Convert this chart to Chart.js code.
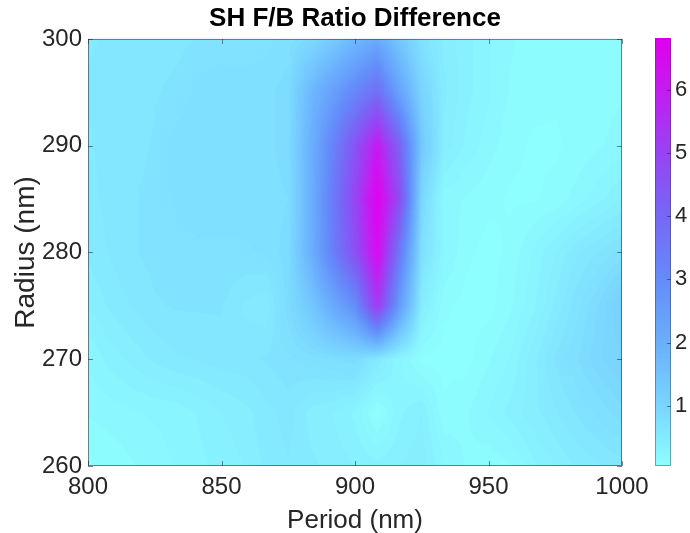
<!DOCTYPE html>
<html><head><meta charset="utf-8">
<script src="https://cdn.jsdelivr.net/npm/chart.js@4/dist/chart.umd.min.js"></script>
<style>html,body{margin:0;padding:0;background:#fff;overflow:hidden}</style>
</head><body>
<canvas id="c" width="690" height="533" style="display:block;width:690px;height:533px"></canvas>
<script>
// ---- data ----
const periods = [800, 808.33, 816.67, 825, 833.33, 841.67, 850, 858.33, 866.67, 875, 883.33, 891.67, 900,
                 908.33, 916.67, 925, 933.33, 941.67, 950, 958.33, 966.67, 975, 983.33, 991.67, 1000];
const radii = [260, 265, 270, 275, 280, 285, 290, 295, 300];
const z300 = [0.60,0.62,0.64,0.65,0.66,0.70,0.72,0.72,0.74,0.80,0.95,1.30,1.80,2.20,1.40,0.75,0.50,0.40,0.30,0.22,0.18,0.16,0.16,0.18,0.20];
const z295 = [0.62,0.64,0.66,0.68,0.72,0.80,0.82,0.82,0.82,0.90,1.80,2.50,3.20,3.90,2.40,1.10,0.55,0.40,0.30,0.20,0.15,0.14,0.15,0.18,0.20];
const z290 = [0.60,0.64,0.66,0.70,0.80,0.82,0.82,0.82,0.82,0.90,2.00,3.30,4.60,6.10,4.20,1.40,0.50,0.35,0.25,0.15,0.12,0.12,0.15,0.20,0.25];
const z285 = [0.58,0.64,0.68,0.72,0.78,0.80,0.80,0.80,0.80,0.85,2.00,3.50,5.00,6.80,4.80,1.00,0.25,0.20,0.15,0.12,0.12,0.15,0.25,0.35,0.45];
const z280 = [0.55,0.62,0.68,0.72,0.75,0.76,0.76,0.76,0.78,0.90,2.00,3.40,4.70,6.50,3.60,0.80,0.30,0.15,0.10,0.15,0.30,0.45,0.60,0.70,0.80];
const z275 = [0.45,0.55,0.62,0.68,0.70,0.70,0.70,0.60,0.55,0.90,1.40,2.20,3.00,5.30,2.60,0.50,0.15,0.10,0.10,0.20,0.35,0.55,0.75,0.95,1.20];
const z270 = [0.30,0.40,0.48,0.55,0.60,0.62,0.65,0.66,0.70,0.75,0.80,0.85,0.90,0.60,0.30,0.10,0.10,0.10,0.20,0.30,0.50,0.70,0.85,1.00,1.10];
const z265 = [0.22,0.25,0.28,0.30,0.32,0.38,0.45,0.50,0.58,0.65,0.50,0.45,0.35,0.10,0.35,0.45,0.15,0.20,0.30,0.40,0.50,0.60,0.70,0.80,0.90];
const z260 = [0.10,0.15,0.20,0.25,0.30,0.35,0.40,0.45,0.55,0.60,0.55,0.50,0.45,0.40,0.45,0.50,0.30,0.20,0.15,0.20,0.35,0.45,0.55,0.60,0.65];
const zRows = [z260, z265, z270, z275, z280, z285, z290, z295, z300];
const xTicks = [800, 850, 900, 950, 1000];
const yTicks = [260, 270, 280, 290, 300];
const cTicks = [1, 2, 3, 4, 5, 6];
const cMin = 0.05, cMax = 6.8;
// colormap stops: value -> rgb
const cmapStops = [
  [0.05, 142, 255, 255], [1, 122, 214, 255], [2, 106, 176, 253], [3, 100, 140, 250],
  [4, 118, 104, 246], [5, 152, 68, 244], [6, 196, 28, 241], [6.8, 226, 0, 240]
];

// ---- helpers ----
function cmap(v) {
  if (v <= cmapStops[0][0]) return cmapStops[0].slice(1);
  for (let i = 1; i < cmapStops.length; i++) {
    const a = cmapStops[i - 1], b = cmapStops[i];
    if (v <= b[0]) {
      const t = (v - a[0]) / (b[0] - a[0]);
      return [a[1] + t * (b[1] - a[1]), a[2] + t * (b[2] - a[2]), a[3] + t * (b[3] - a[3])];
    }
  }
  return cmapStops[cmapStops.length - 1].slice(1);
}
function locate(arr, v) {
  let i = 0;
  while (i < arr.length - 2 && v > arr[i + 1]) i++;
  const t = (v - arr[i]) / (arr[i + 1] - arr[i]);
  return [i, Math.max(0, Math.min(1, t))];
}
function zAt(p, r) {
  const [i, tx] = locate(periods, p);
  const [j, ty] = locate(radii, r);
  const a = zRows[j][i], b = zRows[j][i + 1], c = zRows[j + 1][i], d = zRows[j + 1][i + 1];
  return (a * (1 - tx) + b * tx) * (1 - ty) + (c * (1 - tx) + d * tx) * ty;
}
const levelStep = 0.08;

const points = [];
radii.forEach((r, j) => periods.forEach((p, i) => points.push({x: p, y: r, v: zRows[j][i]})));

const FONT = "'Liberation Sans', Arial, Helvetica, sans-serif";
const axisCol = 'rgba(38,38,38,0.55)';
const noPad = s => { s.paddingTop = 0; s.paddingBottom = 0; s.paddingLeft = 0; s.paddingRight = 0; };

const contourPlugin = {
  id: 'contourFill',
  beforeDatasetsDraw(chart) {
    const {ctx, chartArea: a, scales: {x, y}} = chart;
    const x0 = Math.round(a.left), y0 = Math.round(a.top);
    const w = Math.round(a.right) - x0, h = Math.round(a.bottom) - y0;
    const img = ctx.createImageData(w, h);
    for (let jj = 0; jj < h; jj++) {
      const r = y.getValueForPixel(y0 + jj + 0.5);
      for (let ii = 0; ii < w; ii++) {
        const p = x.getValueForPixel(x0 + ii + 0.5);
        let v = zAt(p, r);
        v = cMin + Math.floor((v - cMin) / levelStep) * levelStep;
        const c = cmap(v);
        const k = (jj * w + ii) * 4;
        img.data[k] = c[0]; img.data[k + 1] = c[1]; img.data[k + 2] = c[2]; img.data[k + 3] = 255;
      }
    }
    ctx.putImageData(img, x0, y0);
  },
  afterDatasetsDraw(chart) {
    const {ctx, chartArea: a, scales: {x, y, cb}} = chart;
    ctx.save();
    ctx.strokeStyle = axisCol;
    ctx.lineWidth = 1;
    ctx.strokeRect(a.left + 0.5, a.top + 0.5, a.right - a.left - 1, a.bottom - a.top - 1);
    ctx.beginPath();
    xTicks.forEach(t => {
      const px = Math.round(x.getPixelForValue(t)) + 0.5;
      ctx.moveTo(px, a.bottom); ctx.lineTo(px, a.bottom - 5);
      ctx.moveTo(px, a.top); ctx.lineTo(px, a.top + 5);
    });
    yTicks.forEach(t => {
      const py = Math.round(y.getPixelForValue(t)) + 0.5;
      ctx.moveTo(a.left, py); ctx.lineTo(a.left + 5, py);
      ctx.moveTo(a.right, py); ctx.lineTo(a.right - 5, py);
    });
    ctx.stroke();
    // colorbar
    const bx0 = 655, bx1 = 671;
    const top = cb.getPixelForValue(cMax), bot = cb.getPixelForValue(cMin);
    for (let py = Math.floor(top); py < Math.ceil(bot); py++) {
      const v = cb.getValueForPixel(py + 0.5);
      const c = cmap(v);
      ctx.fillStyle = `rgb(${c[0] | 0},${c[1] | 0},${c[2] | 0})`;
      ctx.fillRect(bx0, py, bx1 - bx0, 1);
    }
    ctx.strokeStyle = 'rgba(60,60,60,0.45)';
    ctx.strokeRect(bx0 + 0.5, top + 0.5, bx1 - bx0 - 1, bot - top - 1);
    ctx.strokeStyle = axisCol;
    ctx.beginPath();
    cTicks.forEach(t => {
      const py = Math.round(cb.getPixelForValue(t)) + 0.5;
      ctx.moveTo(bx1, py); ctx.lineTo(bx1 - 4, py);
    });
    ctx.stroke();
    ctx.restore();
  }
};

new Chart(document.getElementById('c'), {
  type: 'scatter',
  data: {datasets: [{label: 'SH F/B Ratio Difference', data: points, pointRadius: 0, pointHoverRadius: 0}]},
  options: {
    responsive: false,
    animation: false,
    devicePixelRatio: 1,
    layout: {padding: {left: 20, right: 0, top: 0, bottom: 0}},
    plugins: {
      legend: {display: false},
      tooltip: {enabled: false},
      title: {display: true, text: 'SH F/B Ratio Difference', color: '#000',
              font: {family: FONT, size: 26, weight: 'bold', lineHeight: 1.15}, padding: {top: 4, bottom: 5}}
    },
    scales: {
      x: {
        type: 'linear', position: 'bottom', min: 800, max: 1000,
        afterBuildTicks: s => { s.ticks = xTicks.map(v => ({value: v})); },
        afterFit: s => { s.height = 67; noPad(s); },
        ticks: {color: '#262626', font: {family: FONT, size: 24}, padding: 7, maxRotation: 0, autoSkip: false,
                callback: v => String(v)},
        grid: {display: false, drawTicks: false}, border: {display: false},
        title: {display: true, text: 'Period (nm)', color: '#262626', font: {family: FONT, size: 26, lineHeight: 1.2}, padding: {top: 0, bottom: -3}}
      },
      y: {
        type: 'linear', position: 'left', min: 260, max: 300,
        afterBuildTicks: s => { s.ticks = yTicks.map(v => ({value: v})); },
        afterFit: s => { s.width = 68; noPad(s); },
        ticks: {color: '#262626', font: {family: FONT, size: 24}, padding: 6, autoSkip: false,
                callback: v => String(v)},
        grid: {display: false, drawTicks: false}, border: {display: false},
        title: {display: true, text: 'Radius (nm)', color: '#262626', font: {family: FONT, size: 28, lineHeight: 1.2}, padding: {top: -11, bottom: 0}}
      },
      cb: {
        type: 'linear', position: 'right', min: cMin, max: cMax,
        afterBuildTicks: s => { s.ticks = cTicks.map(v => ({value: v})); },
        afterFit: s => { s.width = 68; noPad(s); },
        ticks: {color: '#262626', font: {family: FONT, size: 22}, padding: 53, autoSkip: false,
                callback: v => String(v)},
        grid: {display: false, drawTicks: false}, border: {display: false}
      }
    }
  },
  plugins: [contourPlugin]
});
</script>
</body></html>
